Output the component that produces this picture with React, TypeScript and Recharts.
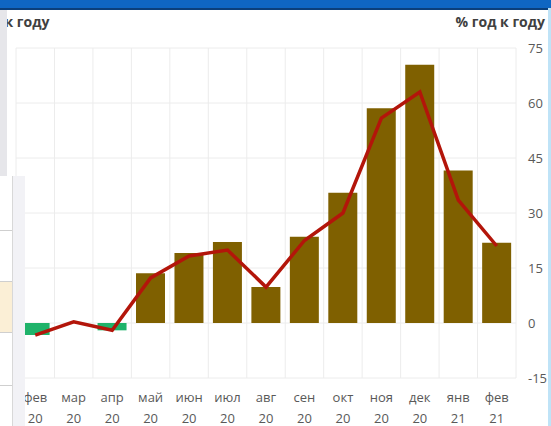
import React from "react";
import { ComposedChart, Bar, Line, Cell, XAxis, YAxis, CartesianGrid } from "recharts";

const months = ["фев", "мар", "апр", "май", "июн", "июл", "авг", "сен", "окт", "ноя", "дек", "янв", "фев"];
const years = ["20", "20", "20", "20", "20", "20", "20", "20", "20", "20", "20", "21", "21"];
const barValues = [-3.3, 0, -2, 13.6, 19.1, 22.1, 9.8, 23.5, 35.5, 58.6, 70.4, 41.6, 21.9];
const lineValues = [-3.3, 0.3, -2.0, 12.3, 18.3, 19.9, 9.8, 22.5, 30.0, 55.9, 63.0, 33.5, 21.0];
const yTicks = [-15, 0, 15, 30, 45, 60, 75];

const data = months.map((m, i) => ({
  label: m + " " + years[i],
  bar: barValues[i],
  line: lineValues[i],
}));

const BROWN = "#7f6000";
const GREEN = "#1fb36a";
const RED = "#b3150a";

function MonthTick(props: any) {
  const { x, y, index } = props;
  return (
    <g transform={`translate(${x},${y})`}>
      <text textAnchor="middle" fill="#595959" fontSize={13} fontFamily="Open Sans">
        <tspan x={0} dy={16}>{months[index]}</tspan>
        <tspan x={0} dy={21}>{years[index]}</tspan>
      </text>
    </g>
  );
}

export default function App() {
  return (
    <div style={{ position: "absolute", left: 0, top: 0, width: 551, height: 426, overflow: "hidden", background: "#fff", fontFamily: "Open Sans" }}>
      <div style={{ position: "absolute", left: 0, top: 0, width: 551, height: 8, background: "#0f66c2", borderBottom: "2px solid #0b3f7a" }} />
      <div style={{ position: "absolute", left: -40, top: 12, fontSize: 14, fontWeight: 700, color: "#404040", whiteSpace: "nowrap" }}>% год к году</div>
      <div style={{ position: "absolute", right: 6, top: 12, fontSize: 14, fontWeight: 700, color: "#404040", whiteSpace: "nowrap" }}>% год к году</div>
      <div style={{ position: "absolute", left: 0, top: 0 }}>
        <ComposedChart width={551} height={426} data={data} margin={{ top: 48, right: 0, bottom: 0, left: 16 }} barCategoryGap="12%">
          <CartesianGrid
            stroke="#ececec"
            verticalCoordinatesGenerator={({ offset }: any) =>
              data.map((_, i) => offset.left + (i * offset.width) / data.length).concat(offset.left + offset.width)
            }
          />
          <XAxis dataKey="label" axisLine={false} tickLine={false} height={48} interval={0} tick={<MonthTick />} />
          <YAxis
            orientation="right"
            width={35}
            domain={[-15, 75]}
            ticks={yTicks}
            axisLine={false}
            tickLine={false}
            tickSize={0}
            tickMargin={12}
            tick={{ fill: "#595959", fontSize: 13, fontFamily: "Open Sans" }}
          />
          <Bar dataKey="bar" isAnimationActive={false}>
            {data.map((d, i) => (
              <Cell key={i} fill={d.bar < 0 ? GREEN : BROWN} />
            ))}
          </Bar>
          <Line dataKey="line" type="linear" stroke={RED} strokeWidth={3.5} dot={false} isAnimationActive={false} />
        </ComposedChart>
      </div>
      <div style={{ position: "absolute", left: 0, top: 10, width: 7, height: 416, background: "#e6e6ea" }} />
      <div style={{ position: "absolute", left: 0, top: 176, width: 25, height: 250, background: "#f2f2f6" }} />
      <div style={{ position: "absolute", left: 0, top: 176, width: 12, height: 250, background: "#ffffff", borderRight: "1px solid #d8d8d8" }} />
      <div style={{ position: "absolute", left: 0, top: 230, width: 12, height: 1, background: "#cfcfcf" }} />
      <div style={{ position: "absolute", left: 0, top: 281, width: 12, height: 50, background: "#fbefd6", borderTop: "1px solid #cfcfcf", borderBottom: "1px solid #cfcfcf" }} />
      <div style={{ position: "absolute", left: 0, top: 385, width: 12, height: 1, background: "#cfcfcf" }} />
      <div style={{ position: "absolute", right: 0, top: 8, width: 3, height: 418, background: "#bfe3f7" }} />
    </div>
  );
}
